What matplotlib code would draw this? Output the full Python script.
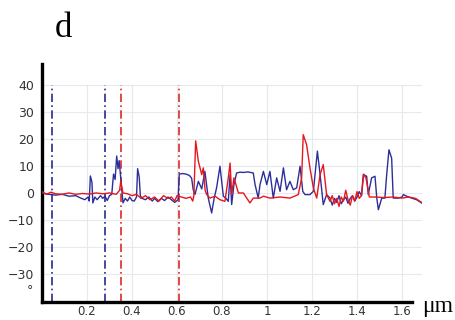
import matplotlib

matplotlib.use("Agg")
import matplotlib.pyplot as plt

# --- data (x in um, y in arbitrary units) ---
blue_x = [0.00, 0.03, 0.06, 0.09, 0.12, 0.15, 0.17, 0.19, 0.205, 0.21, 0.215, 0.222,
          0.226, 0.235, 0.245, 0.26, 0.27, 0.28, 0.29, 0.30, 0.31, 0.318, 0.325, 0.332,
          0.338, 0.343, 0.35, 0.355, 0.36, 0.37, 0.38, 0.39, 0.40, 0.41, 0.42, 0.425,
          0.432, 0.437, 0.445, 0.46, 0.475, 0.49, 0.50, 0.515, 0.53, 0.545, 0.56, 0.575,
          0.59, 0.605, 0.61, 0.625, 0.64, 0.655, 0.665, 0.672, 0.68, 0.695, 0.71, 0.724,
          0.739, 0.754, 0.765, 0.776, 0.791, 0.806, 0.818, 0.828, 0.836, 0.843, 0.853,
          0.865, 0.88, 0.895, 0.915, 0.939, 0.947, 0.961, 0.969, 0.984, 0.999, 1.013,
          1.028, 1.043, 1.058, 1.073, 1.087, 1.102, 1.117, 1.132, 1.147, 1.159, 1.169,
          1.191, 1.206, 1.215, 1.224, 1.236, 1.25, 1.265, 1.28, 1.29, 1.30, 1.31, 1.32,
          1.33, 1.34, 1.35, 1.36, 1.37, 1.38, 1.39, 1.40, 1.41, 1.42, 1.428, 1.443, 1.45,
          1.465, 1.48, 1.488, 1.495, 1.51, 1.524, 1.532, 1.542, 1.554, 1.561, 1.584,
          1.60, 1.606, 1.621, 1.643, 1.665, 1.687]
blue_y = [0.0, -0.5, -0.8, -0.5, -1.2, -1.0, -1.8, -2.5, -1.5, -3.0, 6.3, 4.0,
          -3.7, -1.5, -2.5, -1.0, -2.0, -1.2, -2.8, -1.0, -0.5, 7.0, 5.0, 13.7,
          9.0, 12.0, 5.5, 1.0, -3.7, -2.0, -3.0, -1.5, -2.8, -3.0, -1.5, 9.0,
          6.0, -1.0, -2.0, -2.5, -1.5, -3.0, -2.0, -3.2, -2.0, -2.8, -1.5, -2.5,
          -3.5, -2.5, 7.0, 7.2, 7.0, 6.5, 5.5, 1.2, -0.5, 4.3, 1.5, 8.0,
          -1.9, -7.4, -2.0, 1.9, 9.9, -1.2, -2.0, -3.1, 6.8, -4.3, 3.1,
          7.4, 7.7, 7.6, 7.8, 7.4, 3.1, -1.9, 3.1, 8.0, 3.1, 8.0,
          -1.9, 5.6, 0.6, 9.3, 1.2, 4.3, 1.2, 1.9, 9.9, 0.6, -0.6,
          -0.6, 0.6, 8.0, 15.5, 6.8, -4.3, -0.6, -1.9, -4.5, -2.0, -3.5, -1.0,
          -4.0, -2.5, -1.5, -3.8, -2.0, -1.0, -3.0, -1.5, 0.5, -1.0, 6.8, 6.2, -0.6,
          5.6, 6.2, -1.9, -6.2, -1.9, -1.9, 6.8, 16.0, 12.9, -1.9, -1.9,
          -1.5, -0.6, -1.2, -1.9, -2.5, -3.7]

red_x = [0.00, 0.02, 0.04, 0.06, 0.09, 0.12, 0.15, 0.18, 0.21, 0.24, 0.27, 0.30,
         0.33, 0.345, 0.35, 0.355, 0.36, 0.38, 0.40, 0.42, 0.44, 0.46, 0.48, 0.50,
         0.52, 0.54, 0.56, 0.575, 0.59, 0.60, 0.62, 0.64, 0.66, 0.67, 0.675, 0.683,
         0.695, 0.71, 0.717, 0.725, 0.732, 0.747, 0.769, 0.791, 0.813, 0.828, 0.836,
         0.843, 0.853, 0.862, 0.873, 0.895, 0.91, 0.924, 0.939, 0.969, 0.984, 1.013,
         1.058, 1.102, 1.139, 1.154, 1.161, 1.176, 1.191, 1.206, 1.221, 1.236, 1.25,
         1.265, 1.28, 1.29, 1.30, 1.31, 1.32, 1.33, 1.34, 1.35, 1.36, 1.37, 1.38,
         1.39, 1.40, 1.41, 1.42, 1.43, 1.44, 1.455, 1.48, 1.52, 1.56, 1.60, 1.63,
         1.66, 1.687]
red_y = [0.5, -0.5, 0.3, -0.3, -0.5, 0.0, -0.5, -0.2, -0.4, 0.0, -0.3, 0.0,
         -0.5, 1.0, 4.4, 2.0, 0.0, -0.3, -1.0, -0.5, -2.0, -1.0, -2.5, -1.5,
         -3.0, -1.0, -2.0, -1.5, -3.0, -1.0, -1.5, -2.0, -1.5, -3.0, -1.0, 19.3,
         11.7, 6.8, 9.3, 1.0, -0.6, -1.9, -1.2, -2.5, -3.1, 5.6, 11.1,
         -0.6, 5.6, 3.1, 0.0, 0.0, -1.9, -3.7, -1.9, -1.9, -1.2, -1.9,
         -1.5, -1.9, -0.6, 5.6, 21.6, 17.9, 9.3, 1.9, -1.9, 6.8, 10.5,
         -0.6, -3.1, -1.0, -4.0, -2.0, -5.0, -1.5, -3.0, 1.0, -2.5, -4.5, -1.0,
         -3.0, 0.5, -2.0, -1.0, 7.0, 5.5, -1.5, -1.5, -1.7, -1.5, -1.9, -1.5,
         -2.0, -3.5]

blue_marks = [0.043, 0.28]
red_marks = [0.351, 0.61]

x_ticks = [0.2, 0.4, 0.6, 0.8, 1.0, 1.2, 1.4, 1.6]
x_labels = ["0.2", "0.4", "0.6", "0.8", "1", "1.2", "1.4", "1.6"]
y_ticks = [-30, -20, -10, 0, 10, 20, 30, 40]

BLUE = "#2c2f9a"
RED = "#e8161b"
GRID = "#e4eaee"
TXT = "#333333"

fig = plt.figure(figsize=(4.55, 3.2), dpi=100)
ax = fig.add_axes([0.0923, 0.0563, 0.8357, 0.74375])
ax.set_xlim(0, 1.69)
ax.set_ylim(-40.4, 47.8)

# light grid, limited to the plotting box
for gx in x_ticks:
    ax.plot([gx, gx], [-40.4, 40], color=GRID, lw=0.8, zorder=0)
for gy in y_ticks:
    ax.plot([0, 1.69], [gy, gy], color=GRID, lw=0.8, zorder=0)

for vx in blue_marks:
    ax.plot([vx, vx], [-40.4, 40], color="#2a2a8c", lw=1.2, ls=(0, (5, 2, 1, 2)), zorder=2)
for vx in red_marks:
    ax.plot([vx, vx], [-40.4, 40], color="#e02828", lw=1.2, ls=(0, (5, 2, 1, 2)), zorder=2)

ax.plot(blue_x, blue_y, color=BLUE, lw=1.0, zorder=3)
ax.plot(red_x, red_y, color=RED, lw=1.0, zorder=4)

for s in ("top", "right"):
    ax.spines[s].set_visible(False)
for s in ("left", "bottom"):
    ax.spines[s].set_linewidth(2.4)
    ax.spines[s].set_color("black")
ax.spines["bottom"].set_bounds(0, 1.645)

ax.set_xticks(x_ticks, x_labels)
ax.set_yticks(y_ticks)
ax.tick_params(length=0, labelsize=9, colors=TXT)
ax.tick_params(axis="y", pad=5.5)
ax.tick_params(axis="x", pad=2, labelsize=8.5)
ax.text(-0.053, -36, "°", fontsize=9, ha="center", va="center", color=TXT)

fig.text(422 / 455, 1 - 312 / 320, "μm", fontsize=17, family="Liberation Serif",
         ha="left", va="baseline")
fig.text(55 / 455, 1 - 37 / 320, "d", fontsize=25, family="Liberation Serif",
         ha="left", va="baseline")

fig.savefig("out.png", dpi=100)
